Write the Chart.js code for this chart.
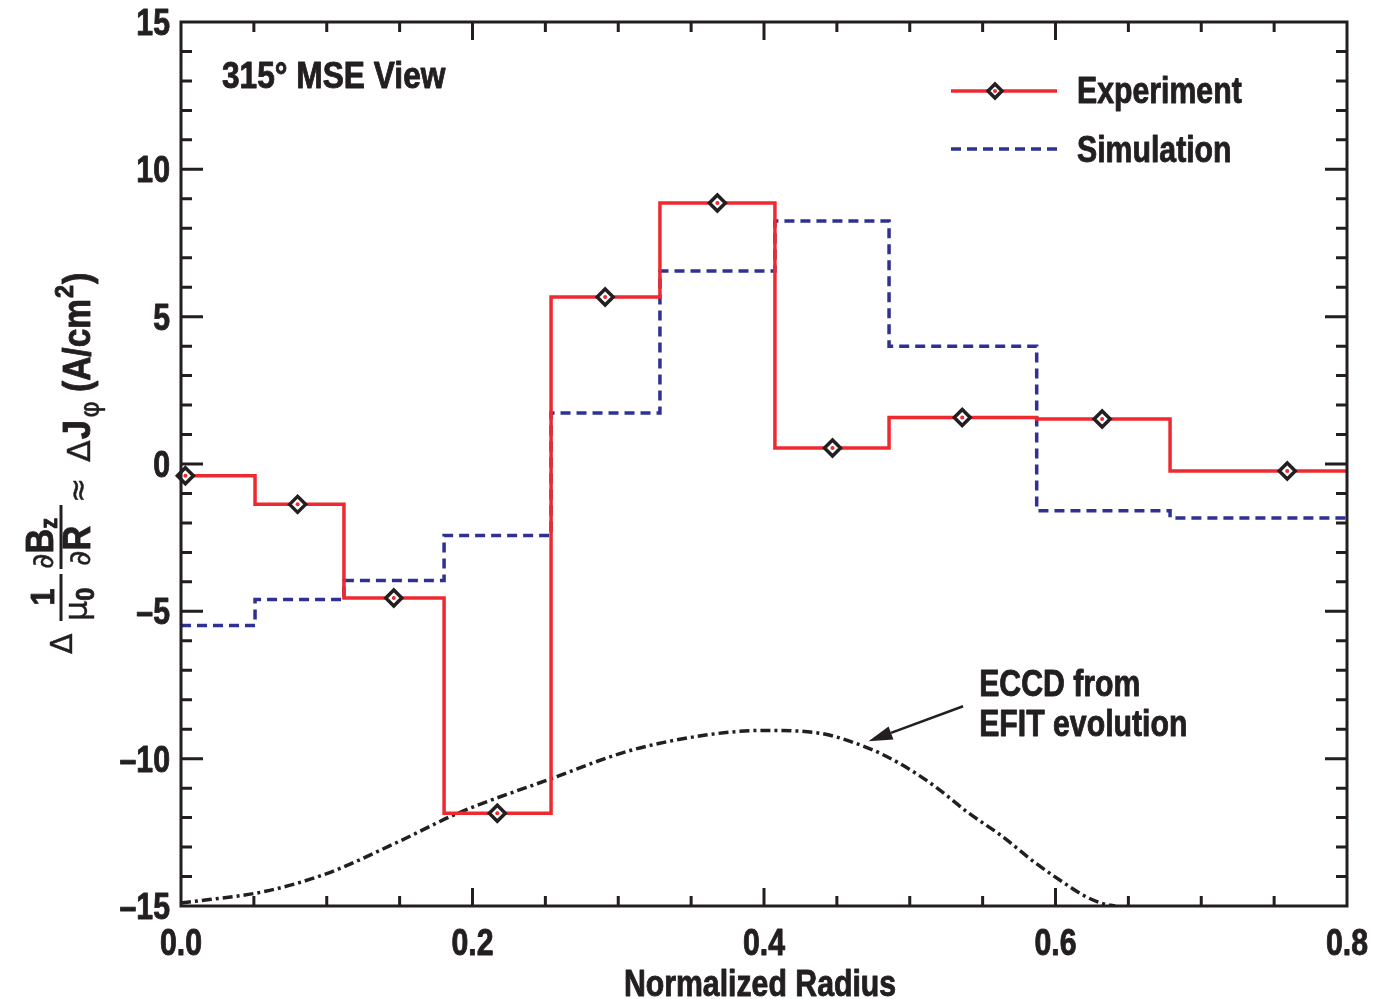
<!DOCTYPE html>
<html>
<head>
<meta charset="utf-8">
<title>315 MSE View - current density change</title>
<script src="https://cdn.jsdelivr.net/npm/chart.js@4.4.1/dist/chart.umd.min.js"></script>
<style>
  html, body { margin: 0; padding: 0; background: #fff; }
  #wrap { width: 1376px; height: 999px; position: relative; }
</style>
</head>
<body>
<div id="wrap"><canvas id="profileChart"></canvas></div>
<script>
// bin edges (normalized radius) shared by both step profiles
const binEdges = [0.0, 0.0508, 0.1118, 0.1805, 0.2539, 0.3286, 0.4075, 0.4858, 0.5871, 0.6786, 0.8];
const experimentVals = [-0.40, -1.37, -4.55, -11.85, 5.67, 8.86, 0.54, 1.58, 1.53, -0.24];
const simulationVals = [-5.48, -4.60, -3.95, -2.43, 1.73, 6.55, 8.25, 4.00, -1.59, -1.83];
// radius of each measurement channel
const markerRadius = [0.003, 0.080, 0.146, 0.217, 0.291, 0.368, 0.447, 0.536, 0.632, 0.759];

// ECCD profile from EFIT evolution (shifted, arbitrary scale)
const eccdRadius = [0.0, 0.058, 0.100, 0.150, 0.190, 0.255, 0.307, 0.360, 0.400, 0.436,
                    0.471, 0.494, 0.517, 0.540, 0.563, 0.586, 0.609, 0.620, 0.632, 0.641];
const eccdVals = [-14.90, -14.50, -13.90, -12.80, -11.85, -10.66, -9.74, -9.20, -9.04, -9.12,
                  -9.63, -10.19, -10.93, -11.83, -12.62, -13.53, -14.32, -14.66, -14.91, -15.0];

const xTicks = [0.0, 0.2, 0.4, 0.6, 0.8];
const yTicks = [-15, -10, -5, 0, 5, 10, 15];

// annotation arrow (data coords)
const arrowFrom = { x: 0.5366, y: -8.22 };
const arrowTo = { x: 0.4717, y: -9.41 };

const INK = '#231f20';
const RED = '#ee2a30';
const BLUE = '#2e3192';
const SANS = "'Liberation Sans', Arial, sans-serif";
const SYMBOL = "'DejaVu Sans', sans-serif";
const BOLD36 = `bold 36px ${SANS}`;
const SQUEEZE = 0.84;   // fake a condensed face

function stepPoints(vals) {
    const pts = vals.map((v, i) => ({ x: binEdges[i], y: v }));
    pts.push({ x: binEdges[binEdges.length - 1], y: vals[vals.length - 1] });
    return pts;
}

const fmtY = v => (v < 0 ? '\u2013' + Math.abs(v) : String(v));

// draw text squeezed horizontally (and slightly heavier), returns end x
function narrowText(ctx, txt, x, y, align = 'left', k = SQUEEZE, heavy = 0.9) {
    const w = ctx.measureText(txt).width * k;
    const x0 = align === 'center' ? x - w / 2 : align === 'right' ? x - w : x;
    ctx.save();
    ctx.translate(x0, y);
    ctx.scale(k, 1);
    ctx.textAlign = 'left';
    ctx.fillText(txt, 0, 0);
    if (heavy > 0) {
        ctx.lineWidth = heavy;
        ctx.strokeStyle = ctx.fillStyle;
        ctx.lineJoin = 'round';
        ctx.strokeText(txt, 0, 0);
    }
    ctx.restore();
    return x0 + w;
}

// ticks pointing inward on all four sides + the box
const framePlugin = {
    id: 'frame',
    afterDatasetsDraw(chart) {
        const { ctx, chartArea: a, scales } = chart;
        ctx.save();
        ctx.strokeStyle = INK;
        ctx.lineWidth = 3;
        ctx.beginPath();
        for (let i = 1; i < 16; i++) {
            const px = scales.x.getPixelForValue(+(i * 0.05).toFixed(2));
            const len = (i % 4 === 0) ? 18 : 10;
            ctx.moveTo(px, a.bottom); ctx.lineTo(px, a.bottom - len);
            ctx.moveTo(px, a.top); ctx.lineTo(px, a.top + len);
        }
        for (let v = -14; v <= 14; v++) {
            const py = scales.y.getPixelForValue(v);
            const len = (v % 5 === 0) ? 22 : 11;
            ctx.moveTo(a.left, py); ctx.lineTo(a.left + len, py);
            ctx.moveTo(a.right, py); ctx.lineTo(a.right - len, py);
        }
        ctx.stroke();
        ctx.strokeRect(a.left, a.top, a.right - a.left, a.bottom - a.top);
        ctx.restore();
    }
};

function drawDiamond(ctx, x, y) {
    ctx.save();
    ctx.strokeStyle = INK;
    ctx.fillStyle = '#fff';
    ctx.lineWidth = 3.5;
    ctx.beginPath();
    ctx.moveTo(x, y - 7); ctx.lineTo(x + 7, y); ctx.lineTo(x, y + 7); ctx.lineTo(x - 7, y);
    ctx.closePath();
    ctx.fill(); ctx.stroke();
    ctx.fillStyle = RED;
    ctx.beginPath(); ctx.arc(x, y, 2, 0, Math.PI * 2); ctx.fill();
    ctx.restore();
}

// y axis title: Δ (1/μ0)(∂Bz/∂R) ≈ ΔJφ (A/cm²)
function drawYTitle(ctx, cx, cy) {
    ctx.save();
    ctx.translate(cx, cy);
    ctx.rotate(-Math.PI / 2);
    ctx.fillStyle = INK;
    ctx.strokeStyle = INK;
    ctx.textBaseline = 'alphabetic';

    const bold = (txt, size, x, y, k = 0.9) => { ctx.font = `bold ${size}px ${SANS}`; return narrowText(ctx, txt, x, y, 'left', k); };
    const sym = (txt, size, x, y) => { ctx.font = `${size}px ${SYMBOL}`; return narrowText(ctx, txt, x, y, 'left', 1, 0.4); };
    const bar = (x0, x1, y) => {
        ctx.lineWidth = 3;
        ctx.beginPath(); ctx.moveTo(x0, y); ctx.lineTo(x1, y); ctx.stroke();
    };

    sym('\u0394', 30, -198, -18);

    // 1 / mu0
    ctx.font = `bold 34px ${SANS}`;
    narrowText(ctx, '1', -141, -36, 'center', 0.9);
    bar(-165, -118, -29);
    let x = sym('\u03bc', 32, -165, -3);
    bold('0', 26, x, 4);

    // dBz / dR
    x = sym('\u2202', 30, -113, -37);
    x = bold('B', 38, x, -37);
    bold('z', 24, x, -33);
    bar(-113, -49, -29);
    x = sym('\u2202', 30, -110, 0);
    bold('R', 38, x, 0);

    sym('\u2248', 30, -47, -2);

    x = sym('\u0394', 32, -6, 0);
    x = bold('J', 38, x + 1, 0);
    x = sym('\u03c6', 26, x + 2, 9);
    x = bold('(A/cm', 38, x + 9, 0, 0.88);
    x = bold('2', 26, x + 1, -17);
    bold(')', 38, x + 1, 0);
    ctx.restore();
}

const labelPlugin = {
    id: 'labels',
    afterDraw(chart) {
        const { ctx, chartArea: a, scales } = chart;
        ctx.save();
        ctx.fillStyle = INK;
        ctx.textBaseline = 'alphabetic';
        ctx.font = BOLD36;

        // tick labels, placed through the scales
        scales.x.ticks.forEach(t => {
            narrowText(ctx, t.value.toFixed(1), scales.x.getPixelForValue(t.value), a.bottom + 49, 'center');
        });
        scales.y.ticks.forEach(t => {
            narrowText(ctx, fmtY(t.value), a.left - 11, scales.y.getPixelForValue(t.value) + 13, 'right');
        });
        narrowText(ctx, 'Normalized Radius', (a.left + a.right) / 2 - 4, 996, 'center');

        narrowText(ctx, '315\u00b0 MSE View', a.left + 41, a.top + 66, 'left', 0.88);

        // ECCD note + arrow
        const tx = scales.x.getPixelForValue(0.5476);
        narrowText(ctx, 'ECCD from', tx, scales.y.getPixelForValue(-7.88));
        narrowText(ctx, 'EFIT evolution', tx, scales.y.getPixelForValue(-9.24));

        const x0 = scales.x.getPixelForValue(arrowFrom.x), y0 = scales.y.getPixelForValue(arrowFrom.y);
        const x1 = scales.x.getPixelForValue(arrowTo.x), y1 = scales.y.getPixelForValue(arrowTo.y);
        const ang = Math.atan2(y1 - y0, x1 - x0);
        const hl = 24, hw = 7;
        const bx = x1 - hl * Math.cos(ang), by = y1 - hl * Math.sin(ang);
        ctx.strokeStyle = INK;
        ctx.lineWidth = 2.5;
        ctx.beginPath(); ctx.moveTo(x0, y0); ctx.lineTo(bx, by); ctx.stroke();
        ctx.beginPath();
        ctx.moveTo(x1, y1);
        ctx.lineTo(bx + hw * Math.sin(ang), by - hw * Math.cos(ang));
        ctx.lineTo(bx - hw * Math.sin(ang), by + hw * Math.cos(ang));
        ctx.closePath(); ctx.fill();

        // legend
        const lx0 = a.right - 396, lx1 = a.right - 290, ltx = a.right - 270;
        const ly1 = a.top + 69, ly2 = a.top + 127;
        ctx.lineWidth = 3.5;
        ctx.strokeStyle = RED;
        ctx.beginPath(); ctx.moveTo(lx0, ly1); ctx.lineTo(lx1, ly1); ctx.stroke();
        drawDiamond(ctx, lx0 + 44, ly1);
        ctx.strokeStyle = BLUE;
        ctx.lineWidth = 3.5;
        ctx.setLineDash([10, 6]);
        ctx.beginPath(); ctx.moveTo(lx0, ly2); ctx.lineTo(lx1, ly2); ctx.stroke();
        ctx.setLineDash([]);
        ctx.fillStyle = INK;
        narrowText(ctx, 'Experiment', ltx, ly1 + 12);
        narrowText(ctx, 'Simulation', ltx, ly2 + 13);

        drawYTitle(ctx, 90, 456);
        ctx.restore();
    }
};

const expPoints = markerRadius.map((r, i) => ({ x: r, y: experimentVals[i] }));

new Chart(document.getElementById('profileChart'), {
    type: 'line',
    data: {
        datasets: [
            {
                label: 'Experiment centres',
                data: expPoints,
                showLine: false,
                pointRadius: 2,
                pointBorderWidth: 0,
                pointBackgroundColor: RED,
                clip: false
            },
            {
                label: 'Experiment points',
                data: expPoints,
                showLine: false,
                pointStyle: 'rectRot',
                pointRadius: 8,
                pointBorderWidth: 3.5,
                pointBorderColor: INK,
                pointBackgroundColor: '#fff',
                clip: false
            },
            {
                label: 'Experiment',
                data: stepPoints(experimentVals),
                stepped: 'before',
                borderColor: RED,
                borderWidth: 3.5,
                pointRadius: 0,
                fill: false
            },
            {
                label: 'Simulation',
                data: stepPoints(simulationVals),
                stepped: 'before',
                borderColor: BLUE,
                borderWidth: 3.5,
                borderDash: [10, 6],
                pointRadius: 0,
                fill: false
            },
            {
                label: 'ECCD',
                data: eccdRadius.map((r, i) => ({ x: r, y: eccdVals[i] })),
                borderColor: INK,
                borderWidth: 3.5,
                borderDash: [10, 4, 3, 4],
                pointRadius: 0,
                cubicInterpolationMode: 'monotone',
                fill: false
            }
        ]
    },
    options: {
        responsive: true,
        maintainAspectRatio: false,
        animation: false,
        layout: { padding: { top: 22, right: 29, left: 0, bottom: 0 } },
        plugins: {
            legend: { display: false },
            tooltip: { enabled: false }
        },
        scales: {
            x: {
                type: 'linear',
                min: 0, max: 0.8,
                afterBuildTicks: s => { s.ticks = xTicks.map(v => ({ value: v })); },
                afterFit: s => { s.height = 93; },
                grid: { display: false, drawTicks: false },
                border: { display: false },
                ticks: { display: false }
            },
            y: {
                min: -15, max: 15,
                afterBuildTicks: s => { s.ticks = yTicks.map(v => ({ value: v })); },
                afterFit: s => { s.width = 181; },
                grid: { display: false, drawTicks: false },
                border: { display: false },
                ticks: { display: false }
            }
        }
    },
    plugins: [framePlugin, labelPlugin]
});
</script>
</body>
</html>
